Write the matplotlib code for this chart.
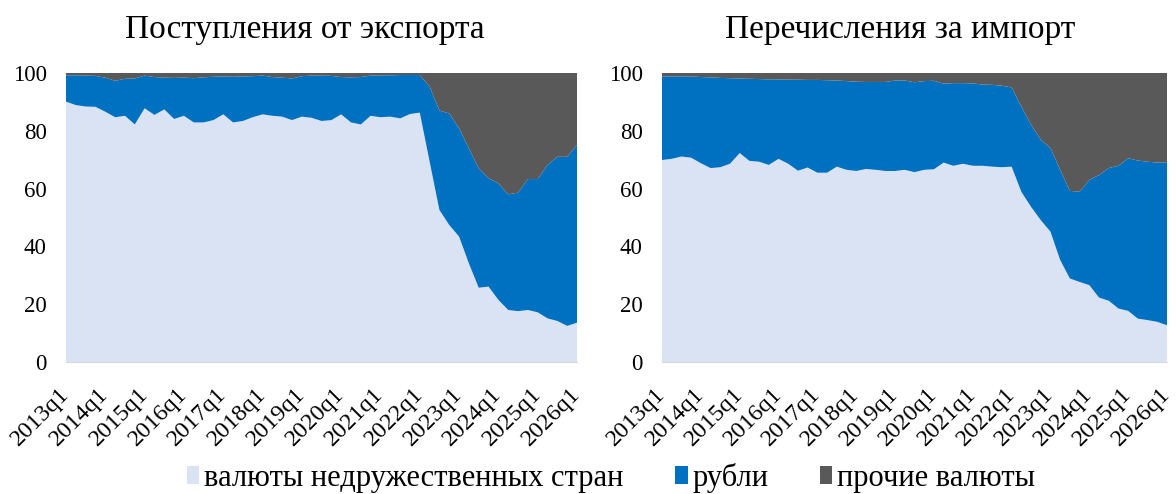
import numpy as np
import matplotlib
matplotlib.use("Agg")
import matplotlib.pyplot as plt
from matplotlib.transforms import ScaledTranslation

# quarters 2013q1 .. 2026q1
quarters = [f"{y}q{q}" for y in range(2013, 2027) for q in range(1, 5)][:53]

# shares, % : export receipts
exp_unfriendly = [90.1, 88.9, 88.4, 88.3, 86.6, 84.7, 85.2, 82.2, 87.8, 85.5,
                  87.4, 84.1, 85.2, 82.9, 82.9, 83.7, 85.7, 82.9, 83.4, 84.7,
                  85.7, 85.2, 84.9, 83.7, 84.9, 84.5, 83.4, 83.7, 85.7, 82.9,
                  82.2, 85.2, 84.7, 84.9, 84.3, 85.8, 86.3, 69.4, 52.6, 47.4,
                  43.4, 34.1, 25.7, 26.1, 21.5, 18.0, 17.6, 18.0, 17.2, 15.1,
                  14.2, 12.5, 13.6]
exp_rubles = [9.1, 10.3, 10.7, 10.7, 11.8, 12.6, 12.8, 15.9, 11.3, 13.1,
              11.0, 14.2, 13.2, 15.3, 15.6, 15.0, 13.1, 15.8, 15.4, 14.2,
              13.4, 13.4, 13.5, 14.4, 14.0, 14.6, 15.7, 15.3, 12.9, 15.6,
              16.4, 13.9, 14.5, 14.3, 15.0, 13.5, 13.0, 25.9, 34.4, 38.6,
              37.5, 39.8, 41.3, 37.5, 40.3, 40.0, 41.0, 45.3, 46.1, 53.1,
              56.8, 58.5, 61.5]
exp_other = [0.8, 0.8, 0.9, 1.0, 1.6, 2.7, 2.0, 1.9, 0.9, 1.4,
             1.6, 1.7, 1.6, 1.8, 1.5, 1.3, 1.2, 1.3, 1.2, 1.1,
             0.9, 1.4, 1.6, 1.9, 1.1, 0.9, 0.9, 1.0, 1.4, 1.5,
             1.4, 0.9, 0.8, 0.8, 0.7, 0.7, 0.7, 4.7, 13.0, 14.0,
             19.1, 26.1, 33.0, 36.4, 38.2, 42.0, 41.4, 36.7, 36.7, 31.8,
             29.0, 29.0, 24.9]

# shares, % : import payments
imp_unfriendly = [69.9, 70.3, 71.1, 70.7, 68.8, 67.1, 67.4, 68.6, 72.3, 69.6,
                  69.3, 68.2, 70.3, 68.6, 66.2, 67.3, 65.5, 65.5, 67.6, 66.5,
                  66.1, 66.8, 66.5, 66.1, 66.1, 66.5, 65.7, 66.5, 66.7, 69.0,
                  67.9, 68.6, 67.9, 67.9, 67.6, 67.4, 67.6, 58.9, 53.7, 49.1,
                  45.1, 35.3, 28.9, 27.7, 26.6, 22.3, 21.2, 18.5, 17.7, 15.0,
                  14.5, 13.9, 12.7]
imp_rubles = [28.9, 28.5, 27.7, 28.1, 29.8, 31.4, 30.9, 29.6, 25.8, 28.4,
              28.6, 29.6, 27.5, 29.1, 31.5, 30.3, 32.1, 32.0, 29.8, 30.7,
              30.9, 30.1, 30.4, 30.8, 31.3, 30.9, 31.1, 30.7, 30.6, 27.3,
              28.6, 27.9, 28.5, 28.1, 28.3, 28.2, 27.4, 29.5, 28.4, 27.8,
              28.9, 31.2, 30.3, 31.2, 36.4, 42.4, 45.9, 49.4, 52.8, 54.7,
              54.8, 55.1, 56.3]
imp_other = [1.2, 1.2, 1.2, 1.2, 1.4, 1.5, 1.7, 1.8, 1.9, 2.0,
             2.1, 2.2, 2.2, 2.3, 2.3, 2.4, 2.4, 2.5, 2.6, 2.8,
             3.0, 3.1, 3.1, 3.1, 2.6, 2.6, 3.2, 2.8, 2.7, 3.7,
             3.5, 3.5, 3.6, 4.0, 4.1, 4.4, 5.0, 11.6, 17.9, 23.1,
             26.0, 33.5, 40.8, 41.1, 37.0, 35.3, 32.9, 32.1, 29.5, 30.3,
             30.7, 31.0, 31.0]

labels = ["валюты недружественных стран", "рубли", "прочие валюты"]
colors = ["#DAE3F3", "#0070C0", "#595959"]

plt.rcParams['font.family'] = ['Liberation Serif', 'DejaVu Serif']

W, H = 1176, 494
fig = plt.figure(figsize=(W / 100, H / 100), dpi=100)
ax1 = fig.add_axes([66 / W, (H - 362) / H, 511 / W, 289 / H])
ax2 = fig.add_axes([662 / W, (H - 362) / H, 505 / W, 289 / H])

x = np.arange(len(quarters))
panels = [(ax1, exp_unfriendly, exp_rubles, exp_other),
          (ax2, imp_unfriendly, imp_rubles, imp_other)]

# nudge rotated x labels a little to the right, like the original
shift = ScaledTranslation(3 / 100, 0, fig.dpi_scale_trans)

for ax, a, b, c in panels:
    polys = ax.stackplot(x, a, b, c, colors=colors, labels=labels, linewidth=0)
    ax.set_xlim(0, len(quarters) - 1)
    ax.set_ylim(0, 100)
    ax.set_yticks(range(0, 101, 20))
    ax.set_xticks(x[::4])
    ax.set_xticklabels(quarters[::4], rotation=45, ha='right', va='center',
                       rotation_mode='anchor', fontsize=17.5)
    for lab in ax.get_xticklabels():
        lab.set_transform(lab.get_transform() + shift)
    ax.tick_params(axis='both', length=0)
    ax.tick_params(axis='y', pad=14, labelsize=16.5)
    ax.tick_params(axis='x', pad=21)
    for s in ['top', 'right', 'left']:
        ax.spines[s].set_visible(False)
    ax.spines['bottom'].set_color('#D9D9D9')

fig.text(305 / W, 1 - 30 / H, "Поступления от экспорта", fontsize=24,
         ha='center', va='center')
fig.text(900 / W, 1 - 30 / H, "Перечисления за импорт", fontsize=24,
         ha='center', va='center')

fig.legend(polys, labels, loc='center', bbox_to_anchor=(611 / W, 1 - 478 / H),
           ncol=3, frameon=False, fontsize=22, handlelength=0.4,
           handleheight=0.5, handletextpad=0.15, columnspacing=1.7,
           borderpad=0)

fig.savefig("out.png", dpi=100)
